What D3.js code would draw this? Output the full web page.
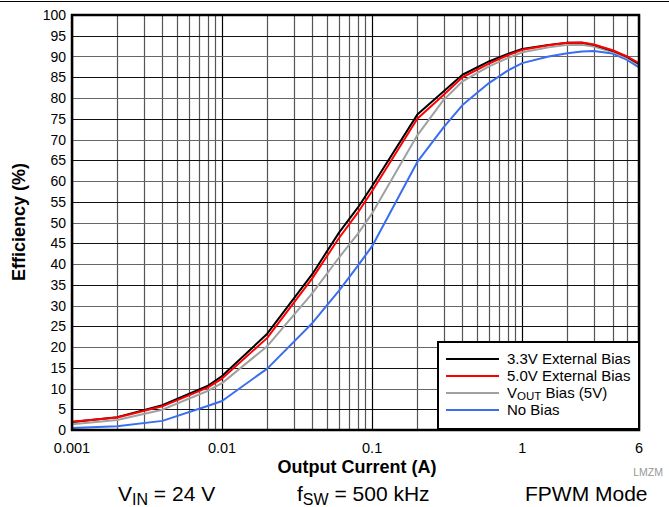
<!DOCTYPE html>
<html>
<head>
<meta charset="utf-8">
<script src="https://cdn.jsdelivr.net/npm/d3@7"></script>
<style>
  body { margin: 0; background: #fff; }
  svg { display: block; font-family: "Liberation Sans", Arial, sans-serif; }
</style>
</head>
<body>
<svg id="chart" width="669" height="507"></svg>
<script>
// output current (A)
var currents = [0.001, 0.002, 0.004, 0.008, 0.01, 0.02, 0.04, 0.06, 0.08, 0.1, 0.2, 0.3, 0.4, 0.6, 0.8, 1, 1.5, 2, 2.5, 3, 4, 5, 6];
// efficiency (%) per series
var bias33 = [1.9, 3.1, 6.0, 10.6, 13.0, 23.2, 37.6, 47.5, 53.5, 58.8, 76.0, 81.6, 85.6, 88.8, 90.6, 91.8, 92.8, 93.3, 93.3, 92.8, 91.4, 89.9, 88.2];
var bias50 = [2.0, 3.0, 5.7, 10.2, 12.4, 22.2, 36.6, 46.2, 52.3, 57.6, 75.0, 80.8, 85.0, 88.3, 90.3, 91.6, 92.7, 93.3, 93.4, 92.9, 91.5, 90.0, 88.4];
var biasVout = [1.4, 2.4, 4.9, 9.4, 11.3, 20.2, 33.0, 41.5, 47.2, 52.2, 71.0, 79.6, 84.0, 87.6, 89.6, 91.0, 92.2, 92.8, 92.8, 92.4, 91.1, 89.6, 88.0];
var noBias = [0.5, 0.9, 2.2, 5.8, 7.0, 14.8, 25.8, 33.5, 39.5, 44.3, 64.6, 73.0, 78.3, 83.6, 86.6, 88.4, 90.0, 90.8, 91.2, 91.3, 90.7, 89.2, 87.4];

var seriesNames = ["3.3V External Bias", "5.0V External Bias", "VOUT Bias (5V)", "No Bias"];
var seriesColors = ["#000000", "#ff0000", "#a0a0a0", "#3a6df0"];
var seriesValues = [bias33, bias50, biasVout, noBias];

var xTicks = [0.001, 0.01, 0.1, 1, 6];
var yTicks = d3.range(0, 101, 5);

(function () {
  var svg = d3.select("#chart");
  var mLeft = 72, mRight = 639, mTop = 15, mBottom = 430;

  var x = d3.scaleLog().domain([0.001, 6]).range([mLeft, mRight]);
  var y = d3.scaleLinear().domain([0, 100]).range([mBottom, mTop]);

  // rule across the top
  svg.append("line").attr("x1", 0).attr("x2", 669).attr("y1", 1.5).attr("y2", 1.5)
    .attr("stroke", "#000").attr("stroke-width", 1);

  // grid
  var grid = svg.append("g");
  var minor = [];
  [0.001, 0.01, 0.1, 1].forEach(function(d) {
    for (var k = 1; k <= 9; k++) { if (d * k <= 6) minor.push(d * k); }
  });
  grid.selectAll("line.v").data(minor).enter().append("line")
    .attr("x1", function(d) { return Math.round(x(d)) + 0.5; })
    .attr("x2", function(d) { return Math.round(x(d)) + 0.5; })
    .attr("y1", mTop).attr("y2", mBottom)
    .attr("stroke", function(d) {
      var l = Math.log10(d);
      return Math.abs(l - Math.round(l)) < 1e-9 ? "#000" : "#555";
    })
    .attr("stroke-width", 1.2);
  grid.selectAll("line.h").data(yTicks).enter().append("line")
    .attr("x1", mLeft).attr("x2", mRight)
    .attr("y1", function(d) { return Math.round(y(d)) + 0.5; })
    .attr("y2", function(d) { return Math.round(y(d)) + 0.5; })
    .attr("stroke", function(d, i) { return i % 2 ? "#111" : "#666"; })
    .attr("stroke-width", 1.2);

  // curves
  var line = d3.line()
    .x(function(d) { return x(d[0]); })
    .y(function(d) { return y(d[1]); });

  [3, 2, 0, 1].forEach(function(i) {
    svg.append("path")
      .datum(currents.map(function(c, j) { return [c, seriesValues[i][j]]; }))
      .attr("d", line)
      .attr("fill", "none")
      .attr("stroke", seriesColors[i])
      .attr("stroke-width", 2)
      .attr("stroke-linejoin", "round");
  });

  // frame
  svg.append("rect").attr("x", mLeft).attr("y", mTop)
    .attr("width", mRight - mLeft).attr("height", mBottom - mTop)
    .attr("fill", "none").attr("stroke", "#000").attr("stroke-width", 2.5);

  // tick labels
  svg.append("g").selectAll("text").data(yTicks).enter().append("text")
    .attr("x", mLeft - 6).attr("y", function(d) { return y(d) + 5; })
    .attr("text-anchor", "end").attr("font-size", 14).attr("fill", "#000")
    .text(function(d) { return d; });

  svg.append("g").selectAll("text").data(xTicks).enter().append("text")
    .attr("x", function(d) { return x(d); }).attr("y", 453)
    .attr("text-anchor", "middle").attr("font-size", 14.5).attr("fill", "#000")
    .text(function(d) { return d; });

  // axis titles
  svg.append("text").attr("x", 357).attr("y", 473)
    .attr("text-anchor", "middle").attr("font-size", 18).attr("font-weight", "bold")
    .text("Output Current (A)");

  svg.append("text").attr("transform", "translate(25,222) rotate(-90)")
    .attr("text-anchor", "middle").attr("font-size", 18).attr("font-weight", "bold")
    .text("Efficiency (%)");

  svg.append("text").attr("x", 663).attr("y", 476)
    .attr("text-anchor", "end").attr("font-size", 10.5).attr("fill", "#999")
    .text("LMZM");

  // legend
  var lg = svg.append("g");
  lg.append("rect").attr("x", 438).attr("y", 342).attr("width", 201).attr("height", 87)
    .attr("fill", "#fff").attr("stroke", "#000").attr("stroke-width", 2);
  seriesNames.forEach(function(name, i) {
    var yy = 359 + i * 17;
    lg.append("line").attr("x1", 446).attr("x2", 499).attr("y1", yy).attr("y2", yy)
      .attr("stroke", seriesColors[i]).attr("stroke-width", 2);
    var t = lg.append("text").attr("x", 507).attr("y", yy + 5).attr("font-size", 15);
    if (i === 2) {
      t.append("tspan").text("V");
      t.append("tspan").attr("font-size", 11.5).attr("dy", 2).text("OUT");
      t.append("tspan").attr("dy", -2).text(" Bias (5V)");
    } else {
      t.text(name);
    }
  });

  // conditions
  function cond(x0, main, s, rest) {
    var t = svg.append("text").attr("x", x0).attr("y", 501).attr("font-size", 21);
    t.append("tspan").text(main);
    if (s) {
      t.append("tspan").attr("font-size", 16).attr("dy", 4).text(s);
      t.append("tspan").attr("dy", -4).text(rest);
    }
  }
  cond(118, "V", "IN", " = 24 V");
  cond(297, "f", "SW", " = 500 kHz");
  cond(525, "FPWM Mode");
})();
</script>
</body>
</html>
